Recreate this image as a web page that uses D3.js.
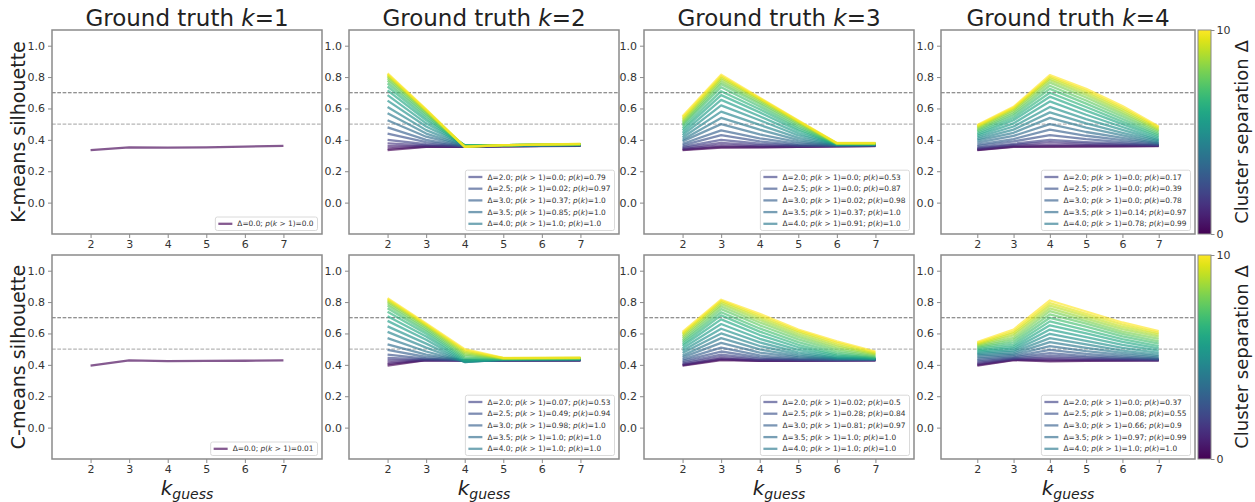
<!DOCTYPE html>
<html>
<head>
<meta charset="utf-8">
<script src="https://cdn.jsdelivr.net/npm/d3@7"></script>
<style>
  body { margin: 0; background: #fff; }
  text { font-family: "DejaVu Sans", sans-serif; }
</style>
</head>
<body>
<div id="chart"></div>
<script>
// --- DATA ---
var kGuess = [2, 3, 4, 5, 6, 7];
var deltas = [0, 0.5, 1, 1.5, 2, 2.5, 3, 3.5, 4, 4.5, 5, 5.5, 6, 6.5, 7, 7.5, 8, 8.5, 9, 9.5, 10];
var yTicks = [0, 0.2, 0.4, 0.6, 0.8, 1.0];
var xTicks = [2, 3, 4, 5, 6, 7];
var titles = ["1", "2", "3", "4"];
var rowLabels = ["K-means silhouette", "C-means silhouette"];
var legendDeltas = ["2.0", "2.5", "3.0", "3.5", "4.0"];

// K-means, ground truth k=1 (only delta=0)
var kmK1 = [[0.335, 0.352, 0.350, 0.352, 0.357, 0.362]];
// K-means, ground truth k=2, one row per delta
var kmK2 = [
  [0.335, 0.355, 0.355, 0.358, 0.360, 0.362],
  [0.345, 0.357, 0.356, 0.359, 0.361, 0.363],
  [0.360, 0.360, 0.357, 0.360, 0.362, 0.364],
  [0.378, 0.365, 0.357, 0.360, 0.362, 0.364],
  [0.400, 0.372, 0.358, 0.361, 0.363, 0.365],
  [0.440, 0.385, 0.358, 0.361, 0.363, 0.365],
  [0.480, 0.400, 0.358, 0.362, 0.364, 0.366],
  [0.525, 0.420, 0.360, 0.362, 0.364, 0.366],
  [0.570, 0.440, 0.362, 0.363, 0.365, 0.367],
  [0.610, 0.462, 0.363, 0.364, 0.366, 0.368],
  [0.650, 0.485, 0.365, 0.365, 0.367, 0.369],
  [0.685, 0.505, 0.366, 0.366, 0.368, 0.370],
  [0.715, 0.525, 0.365, 0.366, 0.368, 0.370],
  [0.740, 0.540, 0.364, 0.366, 0.369, 0.371],
  [0.760, 0.555, 0.362, 0.366, 0.369, 0.371],
  [0.778, 0.566, 0.360, 0.366, 0.369, 0.372],
  [0.792, 0.575, 0.358, 0.366, 0.370, 0.372],
  [0.803, 0.582, 0.357, 0.366, 0.370, 0.373],
  [0.811, 0.587, 0.356, 0.366, 0.370, 0.373],
  [0.818, 0.591, 0.355, 0.366, 0.370, 0.374],
  [0.824, 0.594, 0.355, 0.366, 0.371, 0.374]
];
var kmK3 = [
  [0.335, 0.350, 0.352, 0.355, 0.358, 0.360],
  [0.338, 0.355, 0.354, 0.356, 0.359, 0.361],
  [0.342, 0.365, 0.358, 0.358, 0.360, 0.362],
  [0.348, 0.380, 0.365, 0.360, 0.361, 0.363],
  [0.355, 0.400, 0.375, 0.363, 0.362, 0.364],
  [0.365, 0.430, 0.390, 0.367, 0.363, 0.365],
  [0.375, 0.460, 0.410, 0.375, 0.364, 0.366],
  [0.390, 0.500, 0.435, 0.385, 0.366, 0.367],
  [0.400, 0.540, 0.465, 0.398, 0.367, 0.368],
  [0.415, 0.580, 0.495, 0.412, 0.368, 0.369],
  [0.430, 0.620, 0.525, 0.428, 0.370, 0.370],
  [0.445, 0.655, 0.550, 0.443, 0.371, 0.371],
  [0.460, 0.685, 0.575, 0.458, 0.372, 0.372],
  [0.475, 0.710, 0.595, 0.470, 0.373, 0.373],
  [0.490, 0.735, 0.612, 0.482, 0.374, 0.374],
  [0.500, 0.755, 0.628, 0.493, 0.375, 0.375],
  [0.510, 0.770, 0.640, 0.502, 0.376, 0.376],
  [0.520, 0.785, 0.650, 0.510, 0.377, 0.377],
  [0.530, 0.795, 0.658, 0.516, 0.378, 0.378],
  [0.540, 0.805, 0.664, 0.520, 0.379, 0.379],
  [0.550, 0.815, 0.668, 0.523, 0.380, 0.380]
];
var kmK4 = [
  [0.335, 0.355, 0.355, 0.357, 0.358, 0.360],
  [0.337, 0.357, 0.360, 0.360, 0.360, 0.362],
  [0.340, 0.362, 0.370, 0.366, 0.364, 0.363],
  [0.345, 0.368, 0.385, 0.375, 0.369, 0.365],
  [0.350, 0.375, 0.400, 0.386, 0.375, 0.367],
  [0.360, 0.390, 0.430, 0.404, 0.385, 0.370],
  [0.370, 0.405, 0.465, 0.426, 0.398, 0.374],
  [0.382, 0.425, 0.500, 0.450, 0.412, 0.378],
  [0.395, 0.445, 0.540, 0.478, 0.428, 0.383],
  [0.405, 0.465, 0.575, 0.505, 0.445, 0.390],
  [0.415, 0.485, 0.610, 0.532, 0.463, 0.397],
  [0.425, 0.505, 0.645, 0.560, 0.482, 0.405],
  [0.435, 0.525, 0.675, 0.586, 0.500, 0.415],
  [0.445, 0.540, 0.700, 0.609, 0.516, 0.425],
  [0.455, 0.555, 0.725, 0.631, 0.533, 0.435],
  [0.463, 0.568, 0.745, 0.651, 0.549, 0.445],
  [0.470, 0.580, 0.765, 0.670, 0.564, 0.455],
  [0.477, 0.590, 0.780, 0.686, 0.578, 0.463],
  [0.483, 0.598, 0.792, 0.700, 0.591, 0.470],
  [0.489, 0.604, 0.802, 0.713, 0.603, 0.478],
  [0.495, 0.610, 0.812, 0.725, 0.615, 0.485]
];

// C-means
var cmK1 = [[0.395, 0.428, 0.424, 0.425, 0.426, 0.428]];
var cmK2 = [
  [0.395, 0.430, 0.428, 0.428, 0.428, 0.428],
  [0.405, 0.430, 0.428, 0.428, 0.428, 0.429],
  [0.415, 0.430, 0.428, 0.428, 0.429, 0.429],
  [0.430, 0.432, 0.428, 0.429, 0.429, 0.430],
  [0.445, 0.435, 0.428, 0.429, 0.430, 0.430],
  [0.465, 0.440, 0.428, 0.430, 0.430, 0.431],
  [0.495, 0.450, 0.427, 0.430, 0.431, 0.432],
  [0.530, 0.465, 0.425, 0.431, 0.432, 0.433],
  [0.570, 0.485, 0.420, 0.432, 0.433, 0.434],
  [0.610, 0.510, 0.418, 0.433, 0.434, 0.435],
  [0.645, 0.535, 0.418, 0.434, 0.435, 0.436],
  [0.680, 0.560, 0.422, 0.435, 0.436, 0.437],
  [0.710, 0.580, 0.428, 0.436, 0.437, 0.438],
  [0.738, 0.598, 0.436, 0.437, 0.438, 0.439],
  [0.760, 0.613, 0.445, 0.438, 0.439, 0.440],
  [0.778, 0.625, 0.455, 0.439, 0.440, 0.441],
  [0.792, 0.636, 0.465, 0.440, 0.441, 0.442],
  [0.803, 0.645, 0.474, 0.441, 0.442, 0.443],
  [0.812, 0.652, 0.483, 0.442, 0.443, 0.444],
  [0.819, 0.658, 0.492, 0.443, 0.444, 0.445],
  [0.825, 0.663, 0.500, 0.444, 0.445, 0.446]
];
var cmK3 = [
  [0.395, 0.430, 0.425, 0.426, 0.427, 0.428],
  [0.398, 0.435, 0.426, 0.427, 0.428, 0.429],
  [0.402, 0.440, 0.428, 0.428, 0.429, 0.430],
  [0.408, 0.450, 0.432, 0.430, 0.430, 0.431],
  [0.415, 0.465, 0.438, 0.432, 0.431, 0.432],
  [0.425, 0.485, 0.447, 0.435, 0.432, 0.433],
  [0.435, 0.510, 0.460, 0.440, 0.434, 0.434],
  [0.448, 0.540, 0.478, 0.447, 0.436, 0.435],
  [0.460, 0.570, 0.498, 0.456, 0.438, 0.436],
  [0.475, 0.600, 0.520, 0.467, 0.441, 0.437],
  [0.490, 0.630, 0.543, 0.480, 0.445, 0.438],
  [0.505, 0.660, 0.566, 0.495, 0.450, 0.440],
  [0.520, 0.690, 0.590, 0.512, 0.458, 0.442],
  [0.533, 0.715, 0.612, 0.528, 0.467, 0.445],
  [0.546, 0.735, 0.632, 0.545, 0.478, 0.449],
  [0.558, 0.755, 0.652, 0.562, 0.490, 0.454],
  [0.570, 0.772, 0.670, 0.578, 0.503, 0.460],
  [0.582, 0.786, 0.686, 0.593, 0.516, 0.466],
  [0.592, 0.798, 0.700, 0.606, 0.528, 0.472],
  [0.601, 0.808, 0.713, 0.616, 0.540, 0.478],
  [0.610, 0.815, 0.725, 0.625, 0.550, 0.485]
];
var cmK4 = [
  [0.395, 0.430, 0.422, 0.425, 0.427, 0.428],
  [0.400, 0.432, 0.428, 0.428, 0.429, 0.429],
  [0.405, 0.435, 0.435, 0.432, 0.431, 0.430],
  [0.412, 0.438, 0.445, 0.438, 0.434, 0.431],
  [0.420, 0.442, 0.458, 0.446, 0.438, 0.433],
  [0.430, 0.448, 0.475, 0.456, 0.444, 0.436],
  [0.440, 0.455, 0.495, 0.470, 0.452, 0.440],
  [0.450, 0.463, 0.520, 0.488, 0.463, 0.446],
  [0.460, 0.472, 0.545, 0.508, 0.476, 0.454],
  [0.468, 0.482, 0.570, 0.530, 0.491, 0.464],
  [0.476, 0.492, 0.598, 0.553, 0.508, 0.476],
  [0.484, 0.503, 0.625, 0.577, 0.527, 0.490],
  [0.492, 0.515, 0.652, 0.600, 0.546, 0.505],
  [0.500, 0.528, 0.677, 0.622, 0.564, 0.520],
  [0.508, 0.543, 0.700, 0.643, 0.581, 0.535],
  [0.515, 0.558, 0.722, 0.662, 0.597, 0.550],
  [0.521, 0.572, 0.742, 0.679, 0.612, 0.565],
  [0.527, 0.587, 0.760, 0.695, 0.627, 0.580],
  [0.532, 0.600, 0.777, 0.710, 0.642, 0.593],
  [0.538, 0.612, 0.793, 0.725, 0.657, 0.604],
  [0.545, 0.625, 0.810, 0.740, 0.670, 0.615]
];

// legend probabilities: p(k > 1) and p(k), one per legendDeltas entry
var kmK1Gt1 = "0.0";
var cmK1Gt1 = "0.01";
var kmK2Gt1 = ["0.0", "0.02", "0.37", "0.85", "1.0"];
var kmK2Pk  = ["0.79", "0.97", "1.0", "1.0", "1.0"];
var kmK3Gt1 = ["0.0", "0.0", "0.02", "0.37", "0.91"];
var kmK3Pk  = ["0.53", "0.87", "0.98", "1.0", "1.0"];
var kmK4Gt1 = ["0.0", "0.0", "0.0", "0.14", "0.78"];
var kmK4Pk  = ["0.17", "0.39", "0.78", "0.97", "0.99"];
var cmK2Gt1 = ["0.07", "0.49", "0.98", "1.0", "1.0"];
var cmK2Pk  = ["0.53", "0.94", "1.0", "1.0", "1.0"];
var cmK3Gt1 = ["0.02", "0.28", "0.81", "1.0", "1.0"];
var cmK3Pk  = ["0.5", "0.84", "0.97", "1.0", "1.0"];
var cmK4Gt1 = ["0.0", "0.08", "0.66", "0.97", "1.0"];
var cmK4Pk  = ["0.37", "0.55", "0.9", "0.99", "1.0"];

// --- SETUP ---
var width = 1255, height = 502;
var colX = [[52, 322], [349, 619], [644, 914], [941, 1195]];
var rowY = [[30, 234], [255, 459]];
var lineAlpha = 0.65;
var frameColor = "#8a8a8a";
var tickText = "#333";

var svg = d3.select("#chart").append("svg")
  .attr("width", width).attr("height", height);

var color = d3.scaleSequential(d3.interpolateViridis).domain([0, 10]);

function legendParts(delta, gt1, pk) {
  var parts = [["\u0394=" + delta + "; ", false], ["p", true], ["(", false], ["k", true], [" > 1)=" + gt1, false]];
  if (pk !== undefined) {
    parts = parts.concat([["; ", false], ["p", true], ["(", false], ["k", true], [")=" + pk, false]]);
  }
  return parts;
}

function buildLegend(gt1, pk) {
  return legendDeltas.map(function(d, i) {
    return { delta: +d, parts: legendParts(d, gt1[i], pk[i]) };
  });
}

var panels = [
  { r: 0, c: 0, data: kmK1, ds: [0], legend: [{ delta: 0, parts: legendParts("0.0", kmK1Gt1) }] },
  { r: 0, c: 1, data: kmK2, ds: deltas, legend: buildLegend(kmK2Gt1, kmK2Pk) },
  { r: 0, c: 2, data: kmK3, ds: deltas, legend: buildLegend(kmK3Gt1, kmK3Pk) },
  { r: 0, c: 3, data: kmK4, ds: deltas, legend: buildLegend(kmK4Gt1, kmK4Pk) },
  { r: 1, c: 0, data: cmK1, ds: [0], legend: [{ delta: 0, parts: legendParts("0.0", cmK1Gt1) }] },
  { r: 1, c: 1, data: cmK2, ds: deltas, legend: buildLegend(cmK2Gt1, cmK2Pk) },
  { r: 1, c: 2, data: cmK3, ds: deltas, legend: buildLegend(cmK3Gt1, cmK3Pk) },
  { r: 1, c: 3, data: cmK4, ds: deltas, legend: buildLegend(cmK4Gt1, cmK4Pk) }
];

panels.forEach(function(p) {
  var x = d3.scaleLinear().domain([1, 8]).range(colX[p.c]);
  var y = d3.scaleLinear().domain([-0.2, 1.1]).range([rowY[p.r][1], rowY[p.r][0]]);
  var g = svg.append("g");

  // reference lines
  [[0.7, "#6e6e6e"], [0.5, "#b5b5b5"]].forEach(function(h) {
    g.append("line")
      .attr("x1", x.range()[0]).attr("x2", x.range()[1])
      .attr("y1", y(h[0])).attr("y2", y(h[0]))
      .attr("stroke", h[1]).attr("stroke-width", 1.1)
      .attr("stroke-dasharray", "3.7,1.6");
  });

  // one line per cluster separation
  var line = d3.line().x(function(d, i) { return x(kGuess[i]); }).y(function(d) { return y(d); });
  g.selectAll(".series").data(p.data).enter().append("path")
    .attr("class", "series")
    .attr("d", line)
    .attr("fill", "none")
    .attr("stroke", function(d, i) { return color(p.ds[i]); })
    .attr("stroke-opacity", lineAlpha)
    .attr("stroke-width", 2.3)
    .attr("stroke-linejoin", "round");

  // axes
  var xAxis = g.append("g").attr("transform", "translate(0," + y.range()[0] + ")")
    .call(d3.axisBottom(x).tickValues(xTicks).tickFormat(d3.format("d")).tickSize(4).tickPadding(2));
  var yAxis = g.append("g").attr("transform", "translate(" + x.range()[0] + ",0)")
    .call(d3.axisLeft(y).tickValues(yTicks).tickFormat(d3.format(".1f")).tickSize(4).tickPadding(3));
  [xAxis, yAxis].forEach(function(a) {
    a.select(".domain").remove();
    a.selectAll("line").attr("stroke", frameColor).attr("stroke-width", 1);
    a.selectAll("text").attr("fill", tickText).style("font-size", "11px").style("font-family", "DejaVu Sans");
  });

  // frame
  g.append("rect")
    .attr("x", x.range()[0]).attr("y", y.range()[1])
    .attr("width", x.range()[1] - x.range()[0]).attr("height", y.range()[0] - y.range()[1])
    .attr("fill", "none").attr("stroke", frameColor).attr("stroke-width", 1.5);

  // legend (lower right)
  var rowH = 11.7;
  var lg = g.append("g");
  var box = lg.append("rect").attr("fill", "#fff").attr("fill-opacity", 0.85)
    .attr("stroke", "#d0d0d0").attr("stroke-width", 0.8).attr("rx", 2);
  var n = p.legend.length;
  var boxH = n * rowH + 1.8;
  var boxBottom = y.range()[0] - 3.5;
  var boxTop = boxBottom - boxH;
  var texts = [];
  var maxW = 0;
  p.legend.forEach(function(e, i) {
    var cy = boxTop + 6.8 + i * rowH;
    var t = lg.append("text").attr("y", cy).attr("dy", "0.35em")
      .style("font-size", "7.4px").attr("fill", "#333");
    e.parts.forEach(function(pt) {
      t.append("tspan").text(pt[0]).style("font-style", pt[1] ? "italic" : "normal");
    });
    maxW = Math.max(maxW, t.node().getComputedTextLength());
    texts.push({ t: t, cy: cy, delta: e.delta });
  });
  var boxW = 3 + 14 + 5 + maxW + 4;
  var boxLeft = x.range()[1] - 4.5 - boxW;
  box.attr("x", boxLeft).attr("y", boxTop).attr("width", boxW).attr("height", boxH);
  texts.forEach(function(o) {
    lg.append("line")
      .attr("x1", boxLeft + 3).attr("x2", boxLeft + 17)
      .attr("y1", o.cy).attr("y2", o.cy)
      .attr("stroke", color(o.delta)).attr("stroke-opacity", lineAlpha).attr("stroke-width", 2.3);
    o.t.attr("x", boxLeft + 22);
  });

  // title
  if (p.r === 0) {
    var tt = g.append("text")
      .attr("x", (x.range()[0] + x.range()[1]) / 2).attr("y", 26)
      .attr("text-anchor", "middle").style("font-size", "23px").attr("fill", "#222");
    tt.append("tspan").text("Ground truth ");
    tt.append("tspan").text("k").style("font-style", "italic");
    tt.append("tspan").text("=" + titles[p.c]);
  }

  // x label
  if (p.r === 1) {
    var xl = g.append("text")
      .attr("x", (x.range()[0] + x.range()[1]) / 2).attr("y", 495)
      .attr("text-anchor", "middle").attr("fill", "#222").style("font-style", "italic");
    xl.append("tspan").text("k").style("font-size", "20px");
    xl.append("tspan").text("guess").style("font-size", "14px").attr("dy", 4);
  }

  // y label
  if (p.c === 0) {
    var cy0 = (y.range()[0] + y.range()[1]) / 2;
    g.append("text")
      .attr("transform", "translate(25," + cy0 + ") rotate(-90)")
      .attr("text-anchor", "middle").style("font-size", "19px").attr("fill", "#222")
      .text(rowLabels[p.r]);
  }
});

// --- COLORBARS ---
var defs = svg.append("defs");
var grad = defs.append("linearGradient").attr("id", "viridis")
  .attr("x1", 0).attr("y1", 1).attr("x2", 0).attr("y2", 0);
d3.range(0, 1.0001, 0.05).forEach(function(t) {
  grad.append("stop").attr("offset", t).attr("stop-color", d3.interpolateViridis(t));
});

var cbTicks = [0, 10];
rowY.forEach(function(ry) {
  var cs = d3.scaleLinear().domain([0, 10]).range([ry[1], ry[0]]);
  var cx0 = 1198, cw = 13;
  svg.append("rect").attr("x", cx0).attr("y", ry[0]).attr("width", cw).attr("height", ry[1] - ry[0])
    .attr("fill", "url(#viridis)").attr("stroke", frameColor).attr("stroke-width", 1);
  var ax = svg.append("g").attr("transform", "translate(" + (cx0 + cw) + ",0)")
    .call(d3.axisRight(cs).tickValues(cbTicks).tickFormat(d3.format("d")).tickSize(3.5).tickPadding(2));
  ax.select(".domain").remove();
  ax.selectAll("line").attr("stroke", frameColor);
  ax.selectAll("text").attr("fill", tickText).style("font-size", "11px").style("font-family", "DejaVu Sans");
  svg.append("text")
    .attr("transform", "translate(1248," + ((ry[0] + ry[1]) / 2) + ") rotate(-90)")
    .attr("text-anchor", "middle").style("font-size", "18px").attr("fill", "#222")
    .text("Cluster separation \u0394");
});
</script>
</body>
</html>
